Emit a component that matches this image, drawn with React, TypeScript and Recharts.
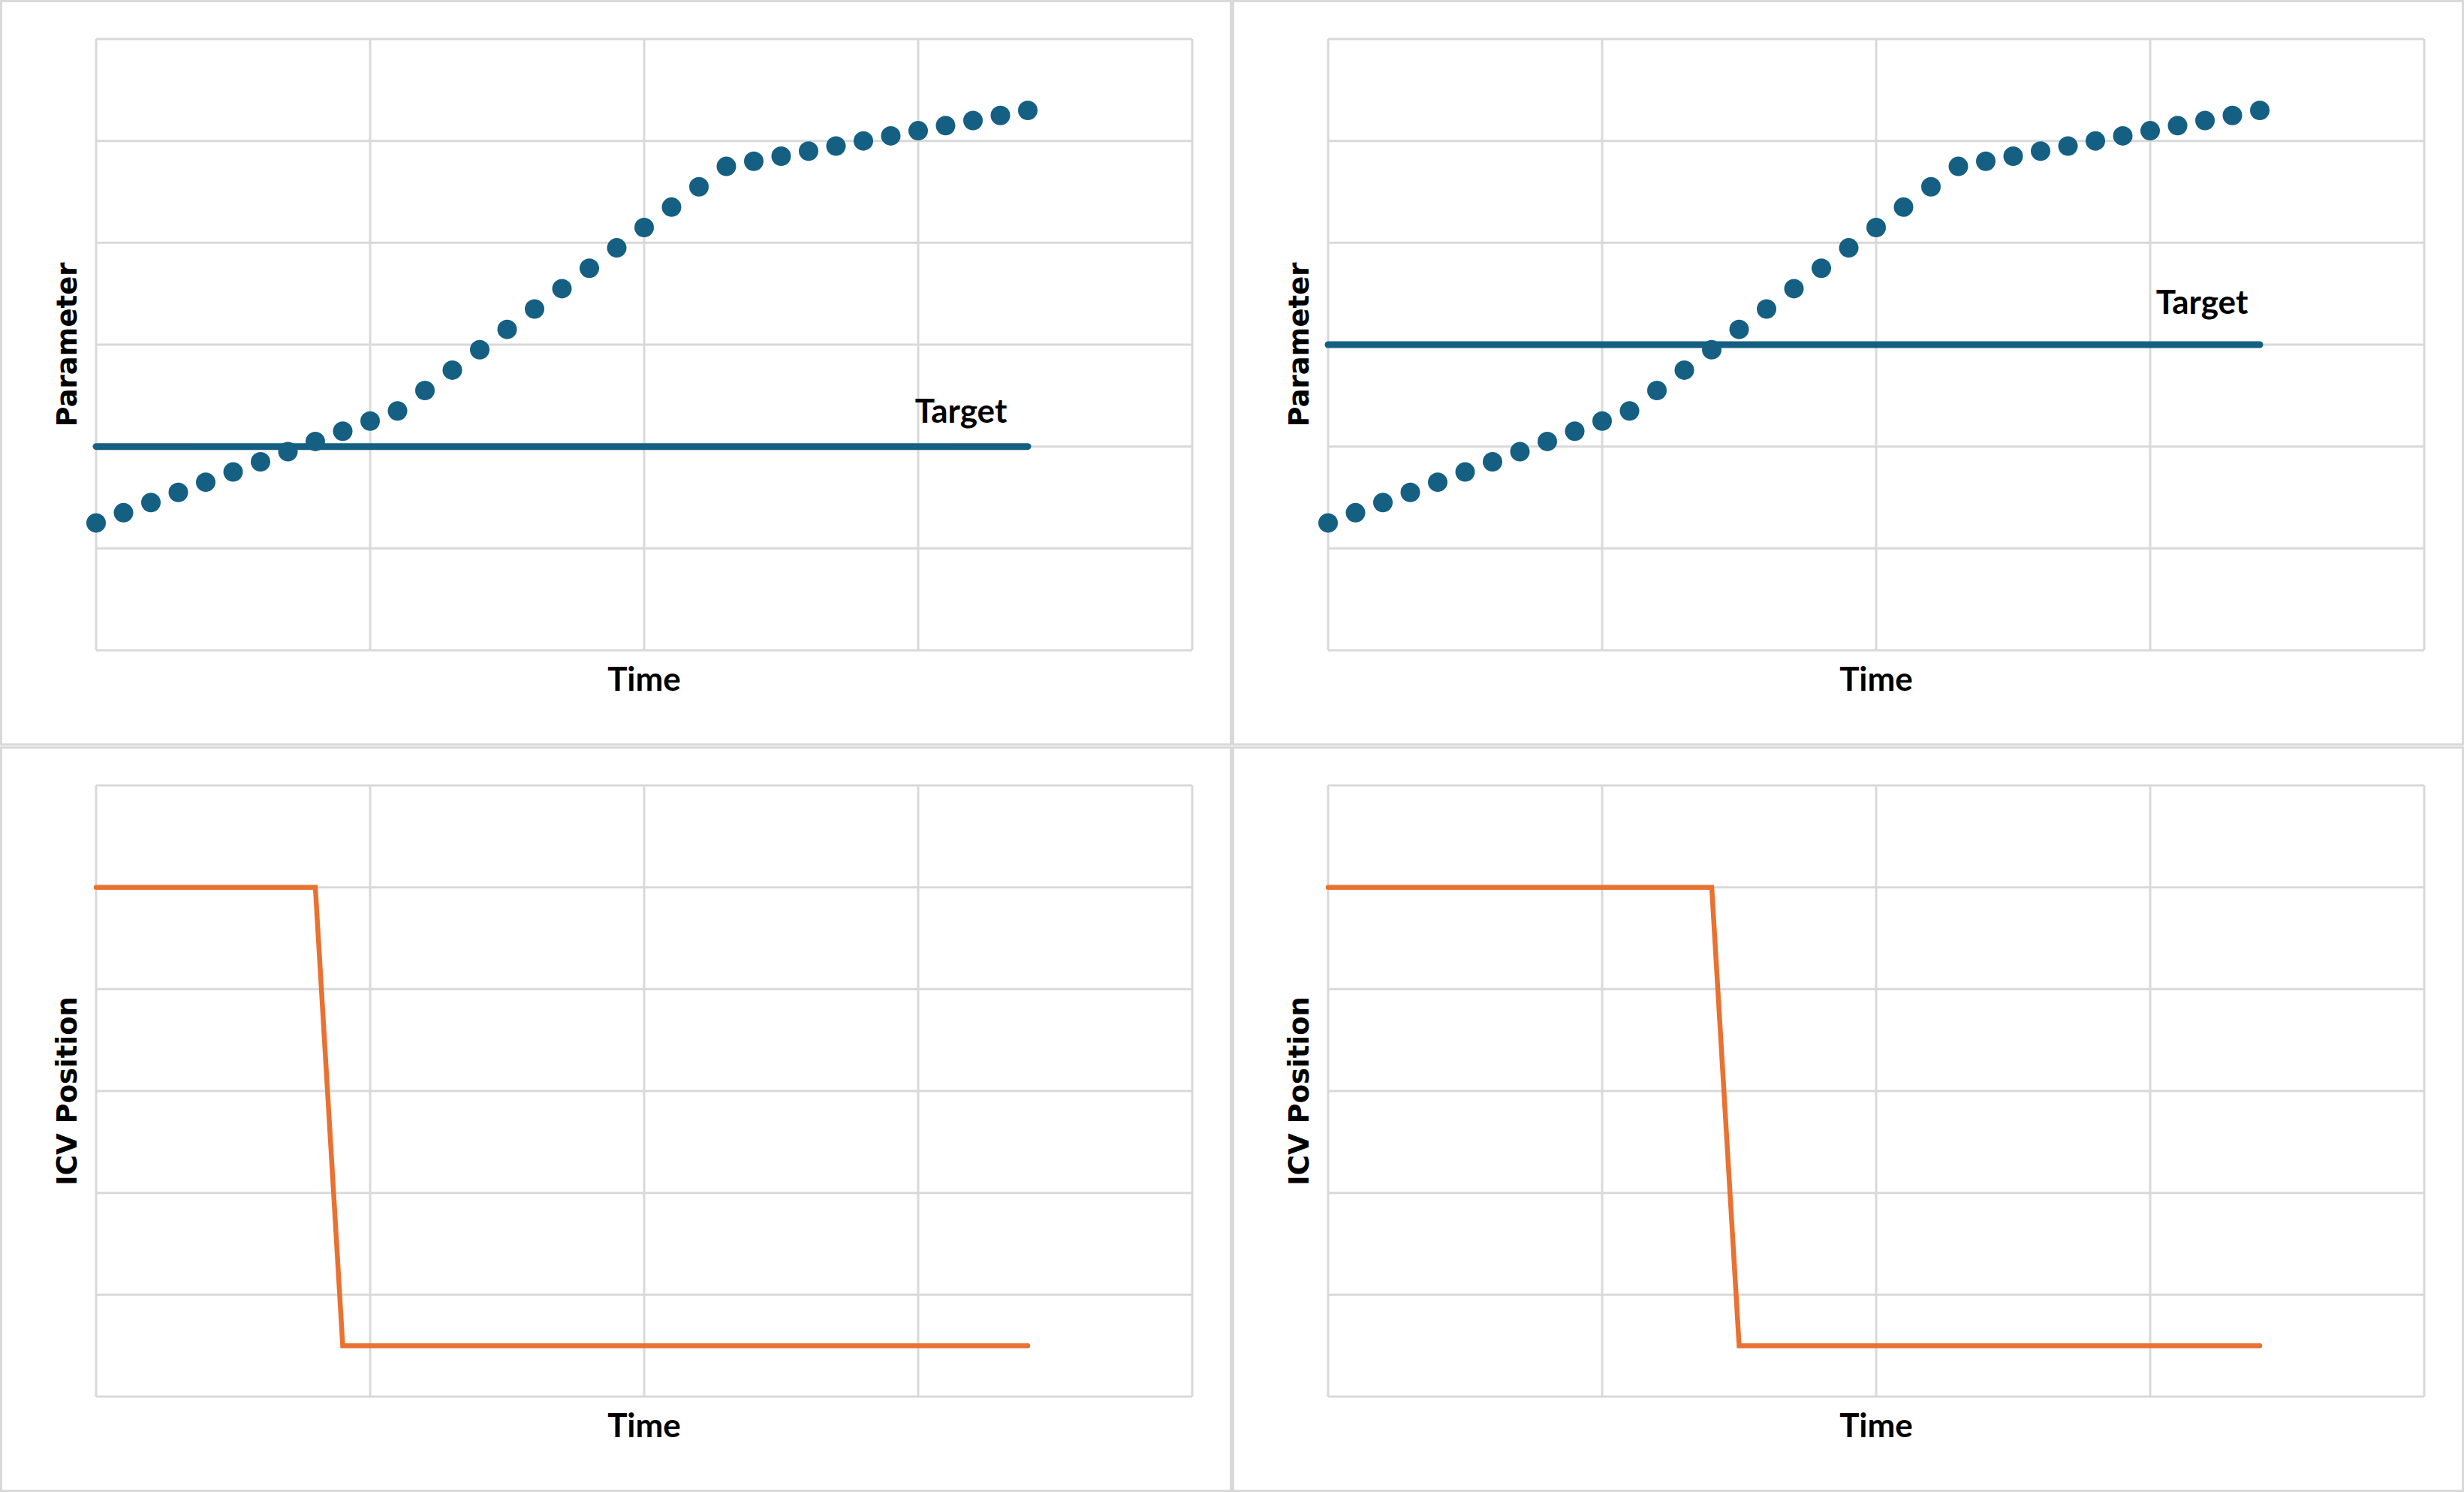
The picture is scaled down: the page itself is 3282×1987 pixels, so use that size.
import React from 'react';
import { ComposedChart, Scatter, Line, XAxis, YAxis, CartesianGrid, Label } from 'recharts';

// time steps of the measured parameter
const timeSteps = [
  0, 1, 2, 3, 4, 5, 6, 7, 8, 9, 10, 11, 12, 13, 14, 15, 16, 17,
  18, 19, 20, 21, 22, 23, 24, 25, 26, 27, 28, 29, 30, 31, 32, 33, 34,
];
const parameterValues = [
  1.25, 1.35, 1.45, 1.55, 1.65, 1.75, 1.85, 1.95, 2.05, 2.15, 2.25, 2.35,
  2.55, 2.75, 2.95, 3.15, 3.35, 3.55, 3.75, 3.95, 4.15, 4.35, 4.55, 4.75,
  4.8, 4.85, 4.9, 4.95, 5.0, 5.05, 5.1, 5.15, 5.2, 5.25, 5.3,
];

const targetTimes = [0, 34];
const targetLow = [2, 2];
const targetHigh = [3, 3];

const icvTimesEarly = [0, 8, 9, 34];
const icvTimesLate = [0, 14, 15, 34];
const icvPositions = [5, 5, 0.5, 0.5];

const timeTicks = [0, 10, 20, 30, 40];
const valueTicks = [0, 1, 2, 3, 4, 5, 6];

const BLUE = '#156082';
const ORANGE = '#E97132';
const GRID = '#d9d9d9';
const PANEL_W = 1641;
const PANEL_H = 994;

const toPoints = (xs: number[], ys: number[]) => xs.map((x, i) => ({ x, y: ys[i] }));

const paramData = toPoints(timeSteps, parameterValues);

const noTick = () => <g />;

const timeLabel = (props: any) => {
  const vb = props.viewBox || {};
  return (
    <text
      x={vb.x + vb.width / 2}
      y={vb.y + 54}
      textAnchor="middle"
      fontFamily="Lato, 'Open Sans', sans-serif"
      fontWeight={700}
      fontSize={44}
      fill="#000"
    >
      Time
    </text>
  );
};

const yLabel = (text: string) => (props: any) => {
  const vb = props.viewBox || {};
  const tx = vb.x + vb.width - 26;
  const ty = vb.y + vb.height / 2;
  return (
    <text
      x={tx}
      y={ty}
      transform={`rotate(-90 ${tx} ${ty})`}
      textAnchor="middle"
      fontFamily="'DejaVu Sans', sans-serif"
      fontWeight={700}
      fontSize={37}
      fill="#000"
    >
      {text}
    </text>
  );
};

const targetLabel = (dx: number, dy: number) => (p: any) => {
  if (p.index !== targetTimes.length - 1) return <g />;
  return (
    <text
      x={p.x + dx}
      y={p.y + dy}
      textAnchor="middle"
      fontFamily="Lato, 'Open Sans', sans-serif"
      fontWeight={700}
      fontSize={44}
      fill="#000"
    >
      Target
    </text>
  );
};

interface PanelProps {
  left: number;
  top: number;
  label: string;
  children: React.ReactNode;
}

const Panel: React.FC<PanelProps> = ({ left, top, label, children }) => (
  <div
    style={{
      position: 'absolute',
      left,
      top,
      width: PANEL_W,
      height: PANEL_H - 1,
      border: `3.5px solid ${GRID}`,
      boxSizing: 'border-box',
    }}
  >
    <div style={{ position: 'absolute', left: -3.5, top: -3.5 }}>
      <ComposedChart
        width={PANEL_W}
        height={PANEL_H}
        margin={{ top: 52, right: 53, bottom: 127, left: 127 }}
      >
        <CartesianGrid
          stroke={GRID}
          strokeWidth={3}
          horizontalValues={valueTicks}
          verticalValues={timeTicks}
        />
        <XAxis
          type="number"
          dataKey="x"
          domain={[0, 40]}
          ticks={timeTicks}
          tick={noTick}
          tickLine={false}
          axisLine={false}
          height={1}
        >
          <Label content={timeLabel} />
        </XAxis>
        <YAxis
          type="number"
          dataKey="y"
          domain={[0, 6]}
          ticks={valueTicks}
          tick={noTick}
          tickLine={false}
          axisLine={false}
          width={1}
        >
          <Label content={yLabel(label)} />
        </YAxis>
        {children}
      </ComposedChart>
    </div>
  </div>
);

const dot = (p: any) => <circle cx={p.cx} cy={p.cy} r={13} fill={BLUE} />;

export default function App() {
  return (
    <div
      style={{
        position: 'absolute',
        left: 0,
        top: 0,
        width: 3282,
        height: 1987,
        background: '#fff',
      }}
    >
      <Panel left={0} top={0} label="Parameter">
        <Line
          data={toPoints(targetTimes, targetLow)}
          dataKey="y"
          stroke={BLUE}
          strokeWidth={9}
          strokeLinecap="round"
          dot={false}
          isAnimationActive={false}
          label={targetLabel(-89, -32)}
        />
        <Scatter data={paramData} shape={dot} isAnimationActive={false} />
      </Panel>
      <Panel left={PANEL_W} top={0} label="Parameter">
        <Line
          data={toPoints(targetTimes, targetHigh)}
          dataKey="y"
          stroke={BLUE}
          strokeWidth={9}
          strokeLinecap="round"
          dot={false}
          isAnimationActive={false}
          label={targetLabel(-77, -41)}
        />
        <Scatter data={paramData} shape={dot} isAnimationActive={false} />
      </Panel>
      <Panel left={0} top={PANEL_H} label="ICV Position">
        <Line
          data={toPoints(icvTimesEarly, icvPositions)}
          dataKey="y"
          stroke={ORANGE}
          strokeWidth={6.5}
          strokeLinecap="round"
          dot={false}
          isAnimationActive={false}
        />
      </Panel>
      <Panel left={PANEL_W} top={PANEL_H} label="ICV Position">
        <Line
          data={toPoints(icvTimesLate, icvPositions)}
          dataKey="y"
          stroke={ORANGE}
          strokeWidth={6.5}
          strokeLinecap="round"
          dot={false}
          isAnimationActive={false}
        />
      </Panel>
    </div>
  );
}
